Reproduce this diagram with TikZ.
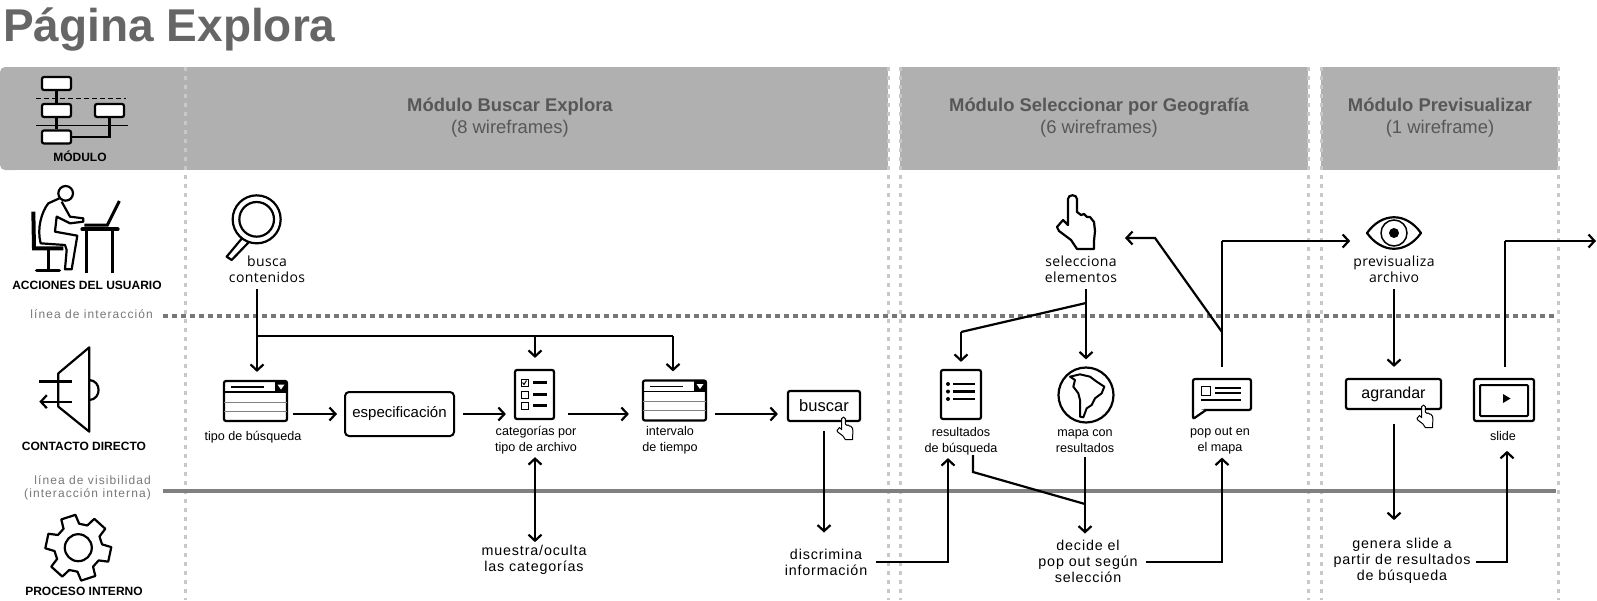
\documentclass[tikz,border=0pt]{standalone}
\usepackage{fontspec}
\setmainfont{Liberation Sans}
\newfontfamily\spaced[LetterSpace=6]{Liberation Sans}
\newfontfamily\spacednota[LetterSpace=9]{Liberation Sans}
\newfontfamily\lucida[LetterSpace=3]{Open Sans}
\usetikzlibrary{arrows.meta}

\definecolor{banda}{HTML}{B0B0B0}
\definecolor{punto}{HTML}{C8C8C8}
\definecolor{raya}{HTML}{777777}
\definecolor{titulo}{HTML}{666666}

\tikzset{
  linea/.style={line width=2.2pt},
  flecha/.style={line width=2.2pt,->},
  icono/.style={draw,line width=2.2pt,rounded corners=2pt,fill=white,inner sep=0},
  accion/.style={inner sep=0,align=center,font=\lucida\fontsize{14}{16}\selectfont},
  interno/.style={inner sep=0,align=center,font=\spaced\fontsize{14.3}{16}\selectfont},
  rotulo/.style={inner sep=0,align=center,font=\fontsize{12.6}{16}\selectfont},
  capa/.style={inner sep=0,font=\bfseries\fontsize{12}{14}\selectfont},
  nota/.style={inner sep=0,align=right,text=raya,font=\spacednota\fontsize{12}{13}\selectfont},
  cabeza/.style={inner sep=0,align=center,text=titulo!85!black,font=\fontsize{18.4}{22}\selectfont},
  handicon/.pic={
    \draw[fill=white,line join=round] (11,4) .. controls (11,-1) and (20,-1) .. (20,4)
      -- (20,17) -- (24,20) -- (27,19) -- (30,22) -- (33,22) -- (37,27) -- (38,36) -- (37,46) -- (37,54)
      -- (20,54) -- (14,45) -- (2,36) -- (0,32) -- (6,25) -- (11,30) -- cycle;
  },
  gridicon/.pic={
    \fill (19.5,-20) rectangle (31.5,-9);
    \fill[white] (22,-16.5) -- (29,-16.5) -- (25.5,-11.5) -- cycle;
    \draw[line width=1.5pt] (-31.5,-9) -- (31.5,-9);
    \draw[line width=1.5pt] (-25,-14) -- (8,-14);
    \draw[line width=1pt,gray] (-31.5,1) -- (31.5,1);
    \draw[line width=1pt,gray] (-31.5,10) -- (31.5,10);
  }
}

\begin{document}
\begin{tikzpicture}[x=1pt,y=-1pt,>={Straight Barb[length=6pt,width=13pt,line width=2.2pt]}]
\useasboundingbox (0,0) rectangle (1597,600);

% bands
\fill[banda,rounded corners=5pt] (0,67) rectangle (20,170);
\fill[banda] (6,67) rectangle (888,170);
\fill[banda] (900,67) rectangle (1308,170);
\fill[banda] (1321,67) rectangle (1558,170);

\foreach \x in {185,888,900,1308,1321,1558}
\draw[punto,line width=3pt,dash pattern=on 4pt off 5pt] (\x,67) -- (\x,600);

\draw[raya,line width=4pt,dash pattern=on 5pt off 4pt] (163,316) -- (1555,316);
\draw[gray,line width=4pt] (163,491) -- (1556,491);

\node[anchor=base west,inner sep=0,text=titulo,font=\bfseries\fontsize{46}{50}\selectfont] (pagina) at (3,41) {Página Explora};

\node[cabeza] (mod1) at (510,118) {\textbf{Módulo Buscar Explora}\\(8 wireframes)};
\node[cabeza] (mod2) at (1099,118) {\textbf{Módulo Seleccionar por Geografía}\\(6 wireframes)};
\node[cabeza] (mod3) at (1440,118) {\textbf{Módulo Previsualizar}\\(1 wireframe)};

% left column
\node[capa] (modulo) at (80,156) {MÓDULO};
\node[capa] (acciones) at (87,285) {ACCIONES DEL USUARIO};
\node[capa] (contacto) at (84,446) {CONTACTO DIRECTO};
\node[capa] (proceso) at (84,591) {PROCESO INTERNO};
\node[nota,anchor=east] (nota1) at (153,314) {línea de interacción};
\node[nota,anchor=east] (nota2) at (151,487.5) {línea de visibilidad\\(interacción interna)};

% module icon
\node[icono,minimum width=29,minimum height=13] (m1) at (56.5,83.5) {};
\node[icono,minimum width=29,minimum height=13] (m2) at (56.5,110.5) {};
\node[icono,minimum width=29,minimum height=13] (m3) at (109.5,110.5) {};
\node[icono,minimum width=29,minimum height=13] (m4) at (56.5,137) {};
\draw[linea] (m1) -- (m2);
\draw[linea] (m2) -- (m4);
\draw[linea] (m4.east) -| (m3.south);
\draw[line width=1pt,dash pattern=on 5pt off 3pt] (36,98) -- (126,98);
\draw[line width=1pt] (36,125) -- (128,125);

% user icon
\begin{scope}[shift={(20,170)},scale=1/3]
\draw[line width=2.2pt] (137,70) circle (22);
\draw[line width=2.2pt,line join=round] (118,85) -- (85,100) .. controls (65,125) and (50,175) .. (62,220)
  -- (135,225) -- (140,240) -- (135,298) -- (155,298) -- (172,197) -- (105,185) -- (110,140)
  -- (150,160) -- (190,155) -- (190,145) -- (150,140) -- (125,95);
\draw[line width=4pt] (40,125) -- (42,235) -- (130,235);
\draw[line width=3pt] (85,235) -- (85,300);
\draw[line width=3.5pt,line cap=round] (50,302) -- (118,302);
\draw[line width=4pt,line cap=round] (187,178) -- (293,178);
\draw[line width=3.5pt] (200,178) -- (200,308);
\draw[line width=3.5pt] (277,178) -- (277,308);
\draw[line width=3pt] (193,165) -- (262,165) -- (298,93);
\end{scope}

% contact icon
\begin{scope}[shift={(0,340)},scale=1/3]
\draw[line width=2.2pt,line join=round] (175,100) -- (268,22) -- (268,275) -- (175,200) -- cycle;
\draw[linea] (268,120) .. controls (305,122) and (305,178) .. (268,180);
\draw[line width=3pt] (118,125) -- (215,125);
\draw[linea,<-] (118,185) -- (215,185);
\end{scope}

% gear
\begin{scope}[shift={(78.3,547.7)}]
\foreach \a in {0,...,5}{
  \pgfmathsetmacro\b{\a*60+12}
  \draw[line width=2.2pt,line join=round,line cap=round] (\b-20:24) -- (\b-13:33) -- (\b+13:33) -- (\b+20:24) -- (\b+40:24);
}
\draw[line width=2.2pt] (0,0) circle (13.5);
\end{scope}

% user actions
\begin{scope}[shift={(0,60)},scale=1/3]
\draw[line width=2.2pt] (770,478) circle (72);
\draw[line width=2.2pt] (770,478) circle (52);
\draw[line width=2.2pt,line join=round] (725,536) -- (680,590) -- (695,600) -- (745,548);
\end{scope}
\node[accion] (busca) at (267,269.5) {busca\\contenidos};
\node[accion] (selecciona) at (1081,269.5) {selecciona\\elementos};
\node[accion] (previo) at (1394,269.5) {previsualiza\\archivo};

\pic[line width=2.2pt] at (1057,195) {handicon};

% eye
\begin{scope}[shift={(1394,233)}]
\draw[line width=2.2pt,line join=round] (-27,0) .. controls (-12,-21) and (12,-21) .. (27,0) .. controls (12,21) and (-12,21) .. (-27,0) -- cycle;
\draw[line width=1.5pt] (0,0) circle (13);
\fill (0,0) circle (5);
\end{scope}

% direct contact
\node[icono,minimum width=63,minimum height=40] (tipo) at (255.5,401) {};
\pic at (255.5,401) {gridicon};
\node[rotulo] (tipotxt) at (253,437) {tipo de búsqueda};

\node[icono,rounded corners=4pt,line width=2pt,minimum width=109,minimum height=44,font=\fontsize{15}{16}\selectfont] (espec) at (399.5,414) {especificación};

\node[icono,minimum width=39,minimum height=49] (lista) at (534.5,394.5) {};
\foreach \n\y\yy in {0/0/0,1/12/0,2/23/0}{
  \draw[line width=1pt] (521,\y+379) rectangle ++(7,7);
  \draw[linea] (533,\y+382.5) -- (547,\y+382.5);
}
\draw[line width=1pt] (522.5,382.5) -- (524,384.5) -- (526.5,380.5);
\node[rotulo] (listatxt) at (536,440) {categorías por\\tipo de archivo};

\node[icono,minimum width=63,minimum height=40] (interv) at (674.5,400.5) {};
\pic at (674.5,400.5) {gridicon};
\node[rotulo] (intervtxt) at (670,440.5) {intervalo\\de tiempo};

\node[icono,minimum width=72,minimum height=30,font=\fontsize{16.5}{18}\selectfont] (buscar) at (824,406) {buscar};
\pic[scale=.42,line width=1pt] at (837,417) {handicon};

\node[icono,minimum width=40,minimum height=49] (result) at (961,394.5) {};
\foreach \y in {384,391.5,399}{
  \fill (948,\y) circle (2);
  \draw[linea] (953,\y) -- (975,\y);
}
\node[rotulo] (resulttxt) at (961,441) {resultados\\de búsqueda};

\node[circle,draw,line width=2.2pt,minimum size=55,inner sep=0] (mapa) at (1086,395) {};
\begin{scope}[shift={(940,280)},scale=1/3]
\draw[line width=2pt,line join=round,fill=white] (390,290) -- (420,283) -- (450,290) -- (470,305) -- (493,320) -- (485,340) -- (465,355) -- (455,375) -- (440,385) -- (430,412) -- (420,410) -- (420,380) -- (420,360) -- (415,340) -- (400,320) -- (405,300) -- cycle;
\end{scope}
\node[rotulo] (mapatxt) at (1085,441) {mapa con\\resultados};

\node[icono,minimum width=58,minimum height=31] (popout) at (1222,394.5) {};
\draw[icono] (1193,408) -- (1193,419) -- (1206,410);
\fill[white] (1195,407) rectangle (1204,409);
\draw[line width=1pt] (1201,386) rectangle (1210,395);
\draw[line width=1.5pt] (1215,388) -- (1241,388);
\draw[line width=1.5pt] (1215,393) -- (1241,393);
\draw[line width=1.5pt] (1201,400) -- (1241,400);
\node[rotulo] (poptxt) at (1220,441) {pop out en\\el mapa};

\node[icono,minimum width=95,minimum height=30,font=\fontsize{16}{18}\selectfont] (agrandar) at (1393.5,394) {agrandar};
\pic[scale=.42,line width=1pt] at (1417,405) {handicon};

\node[icono,minimum width=60,minimum height=42] (slide) at (1504,400) {};
\draw[line width=2pt,rounded corners=1pt] (1480,385) rectangle (1528,416);
\fill (1503,394) -- (1510.5,398.5) -- (1503,403) -- cycle;
\node[rotulo] (slidetxt) at (1503,436) {slide};

% internal process
\node[interno] (muestra) at (534,560) {muestra/oculta\\las categorías};
\node[interno] (discr) at (826,562) {discrimina\\información};
\node[interno] (decide) at (1088,561) {decide el\\pop out según\\selección};
\node[interno] (genera) at (1402,561) {genera slide a\\partir de resultados\\de búsqueda};

% free ends
\coordinate (j1) at (257,336);
\coordinate (j2) at (535,336);
\coordinate (j3) at (673,336);
\coordinate (j4) at (1086,303);
\coordinate (j5) at (961,332);
\coordinate (j6) at (1222,332);
\coordinate (j7) at (1155,238);
\coordinate (j8) at (1222,241);
\coordinate (j9) at (1505,241);
\coordinate (j10) at (973,472);
\coordinate (j11) at (1085,504);
\coordinate (j12) at (948,562);
\coordinate (j13) at (1222,562);
\coordinate (j14) at (1507,562);
\coordinate (fin) at (1596,241);
\coordinate (vuelta) at (1125,238);

% connectors
\draw[flecha,shorten <=6pt,shorten >=8pt] (busca.south -| j1) -- (tipo.north -| j1);
\draw[linea] (j1) -- (j3);
\draw[flecha,shorten >=11pt] (j2) -- (lista.north -| j2);
\draw[flecha,shorten >=8pt] (j3) -- (interv.north -| j3);

\draw[flecha,shorten <=5pt,shorten >=7pt] (tipo.east |- espec) -- (espec.west);
\draw[flecha,shorten <=8pt,shorten >=8pt] (espec.east) -- (lista.west |- espec);
\draw[flecha,shorten <=13pt,shorten >=13pt] (lista.east |- espec) -- (interv.west |- espec);
\draw[flecha,shorten <=8pt,shorten >=9pt] (interv.east |- espec) -- (buscar.west |- espec);

\draw[flecha,<->,shorten <=3pt,shorten >=3pt] (listatxt.south -| j2) -- (muestra.north -| j2);
\draw[flecha,shorten <=9pt,shorten >=16pt] (buscar.south) -- (discr.north -| buscar);
\draw[flecha,shorten <=9pt,shorten >=3pt] (discr.east |- j12) -- (j12) -- (j12 |- resulttxt.south);

\draw[flecha,shorten <=6pt,shorten >=7pt] (selecciona.south -| j4) -- (mapa.north);
\draw[linea] (j4) -- (j5);
\draw[flecha,shorten >=7pt] (j5) -- (result.north -| j5);

\draw[linea,shorten <=11pt] (popout.north -| j6) -- (j8);
\draw[flecha,shorten >=3pt] (j8) -- (previo.west |- j8);
\draw[flecha] (j6) -- (j7) -- (vuelta);

\draw[flecha,shorten <=6pt,shorten >=11pt] (previo.south) -- (agrandar.north -| previo);
\draw[flecha,shorten <=14pt,shorten >=18pt] (agrandar.south -| previo) -- (genera.north -| previo);

\draw[linea,shorten <=11pt] (slide.north -| j9) -- (j9);
\draw[flecha] (j9) -- (fin);

\draw[linea] (resulttxt.south -| j10) -- (j10) -- (j11);
\draw[flecha,shorten <=4pt,shorten >=6pt] (mapatxt.south -| j11) -- (decide.north -| j11);
\draw[flecha,shorten <=8pt,shorten >=3pt] (decide.east |- j13) -- (j13) -- (j13 |- poptxt.south);
\draw[flecha,shorten <=5pt,shorten >=10pt] (genera.east |- j14) -- (j14) -- (j14 |- slidetxt.south);

\end{tikzpicture}
\end{document}
